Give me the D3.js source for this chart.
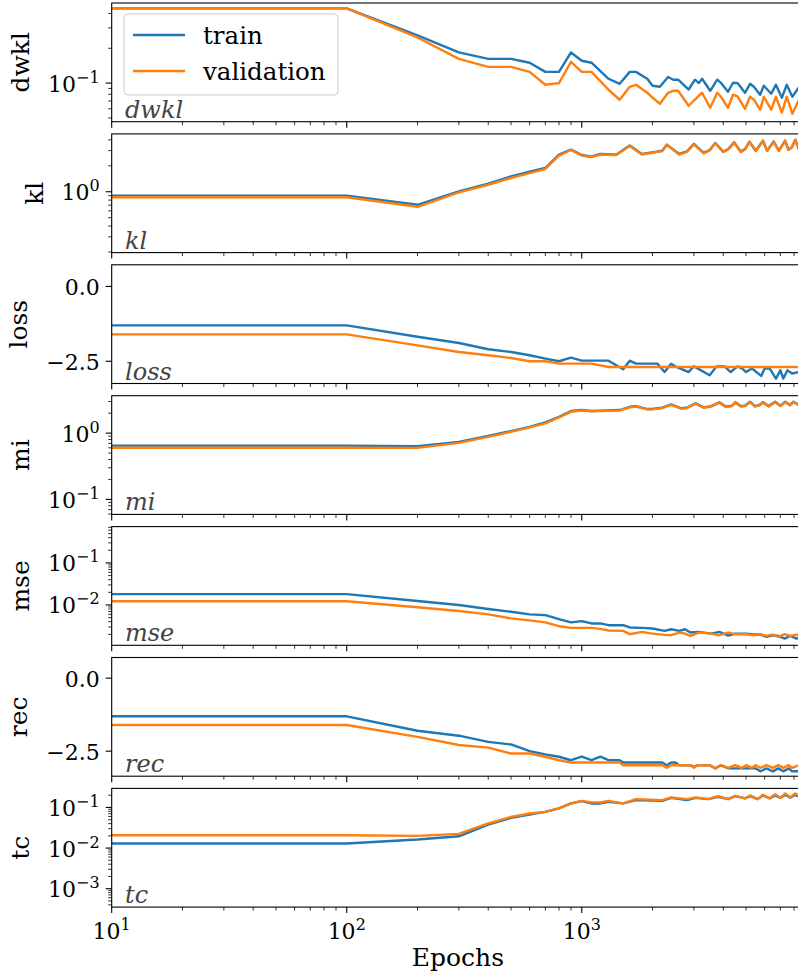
<!DOCTYPE html>
<html>
<head>
<meta charset="utf-8">
<script src="https://cdn.jsdelivr.net/npm/d3@7"></script>
<style>
  body { margin: 0; background: #fff; }
  svg { display: block; }
  text { font-family: "DejaVu Serif", serif; }
</style>
</head>
<body>
<svg id="chart" width="798" height="977"></svg>
<script>
// ---- data ----
const dwklEpochs = [10,100,200,300,400,500,600,700,800,900,1000,1100,1300,1450,1600,1700,1900,2000,2150,2330,2450,2570,2850,3030,3150,3250,3520,3770,3900,4190,4400,4600,4950,5200,5400,5740,5950,6400,6700,7100,7450,7870,8400];
const dwklTrain = [0.443,0.443,0.258,0.184,0.162,0.162,0.150,0.125,0.125,0.184,0.156,0.150,0.109,0.0986,0.125,0.125,0.109,0.0948,0.0929,0.113,0.107,0.107,0.088,0.107,0.100,0.109,0.0858,0.107,0.101,0.0841,0.1006,0.100,0.0825,0.0986,0.0929,0.0793,0.0948,0.0809,0.0967,0.0747,0.0967,0.0762,0.092];
const dwklVal = [0.443,0.443,0.248,0.162,0.138,0.138,0.125,0.0967,0.100,0.1526,0.125,0.125,0.0876,0.0718,0.0929,0.0967,0.0825,0.075,0.0663,0.0825,0.0858,0.0858,0.0637,0.0718,0.078,0.0825,0.0612,0.0825,0.0767,0.0612,0.0793,0.0767,0.0600,0.0762,0.0718,0.0589,0.0762,0.0589,0.0762,0.0555,0.0762,0.0544,0.0718];

const klEpochs = [10,100,200,300,400,500,600,700,800,900,1000,1100,1200,1400,1600,1800,2000,2200,2300,2600,2800,3000,3300,3500,3700,4000,4200,4450,4750,4950,5170,5500,5900,6150,6550,6900,7330,7570,7820,8100,8400];
const klTrain = [0.899,0.899,0.706,1.008,1.239,1.506,1.708,1.886,2.69,3.08,2.67,2.55,2.74,2.69,3.43,2.74,2.86,2.99,3.52,2.74,2.94,3.59,2.82,3.05,3.68,2.92,3.13,3.74,2.92,3.13,3.81,2.99,3.92,2.99,3.84,2.99,3.92,3.08,3.27,4.02,3.08];
const klVal = [0.863,0.863,0.669,0.981,1.206,1.443,1.641,1.836,2.62,3.05,2.62,2.52,2.70,2.66,3.40,2.70,2.83,2.96,3.48,2.70,2.91,3.55,2.79,3.01,3.64,2.89,3.10,3.70,2.89,3.10,3.77,2.96,3.88,2.96,3.80,2.96,3.88,3.05,3.24,3.98,3.05];

const lossEpochs = [10,100,200,300,400,500,600,700,800,900,1000,1100,1300,1500,1600,1700,2100,2250,2400,2500,2850,3000,3500,3750,4050,4300,4600,4800,5000,5300,5800,6000,6300,6700,7000,7200,7500,7850,8400];
const lossTrain = [-1.30,-1.30,-1.68,-1.89,-2.10,-2.19,-2.30,-2.41,-2.50,-2.38,-2.48,-2.48,-2.48,-2.77,-2.48,-2.58,-2.58,-2.86,-2.58,-2.67,-2.86,-2.67,-2.97,-2.67,-2.67,-2.86,-2.67,-2.74,-2.86,-2.74,-2.99,-2.74,-2.74,-3.08,-2.80,-3.08,-2.80,-2.91,-2.86];
const lossVal = [-1.60,-1.60,-1.97,-2.19,-2.30,-2.39,-2.50,-2.50,-2.58,-2.58,-2.58,-2.58,-2.69,-2.69,-2.69,-2.69,-2.69,-2.69,-2.69,-2.69,-2.69,-2.69,-2.69,-2.69,-2.69,-2.69,-2.69,-2.69,-2.69,-2.69,-2.69,-2.69,-2.69,-2.69,-2.69,-2.69,-2.69,-2.69,-2.69];

const miEpochs = [10,100,200,300,400,500,600,700,800,900,1000,1100,1200,1450,1600,1700,1900,2000,2200,2400,2650,2800,3050,3300,3550,3850,4100,4350,4500,4750,4950,5200,5450,5700,5900,6250,6650,7000,7350,7700,7950,8400];
const miTrain = [0.647,0.647,0.635,0.738,0.910,1.072,1.246,1.452,1.766,2.154,2.23,2.154,2.177,2.23,2.50,2.56,2.31,2.31,2.42,2.72,2.37,2.42,2.82,2.45,2.56,2.92,2.50,2.59,2.92,2.56,2.59,2.98,2.56,2.66,2.92,2.56,2.98,2.59,2.98,2.66,2.98,2.66];
const miVal = [0.603,0.603,0.600,0.714,0.879,1.047,1.22,1.40,1.73,2.10,2.20,2.13,2.15,2.20,2.46,2.52,2.28,2.28,2.39,2.68,2.34,2.39,2.78,2.42,2.52,2.88,2.47,2.56,2.88,2.52,2.56,2.94,2.52,2.62,2.88,2.52,2.94,2.56,2.94,2.62,2.94,2.62];

const mseEpochs = [10,100,200,300,400,500,600,700,800,900,1000,1100,1200,1300,1500,1600,1800,2000,2250,2400,2600,2750,2900,3150,3550,3850,4200,4500,5000,5400,5750,6100,6500,6850,7300,7700,8200,8400];
const mseTrain = [0.0181,0.0181,0.01247,0.0100,0.00802,0.00690,0.00598,0.00575,0.00461,0.00385,0.00413,0.00364,0.00364,0.00331,0.00331,0.00292,0.00285,0.00276,0.00242,0.00265,0.00242,0.00265,0.00221,0.00229,0.00209,0.00229,0.00187,0.00209,0.00209,0.00198,0.00198,0.00174,0.00191,0.00184,0.00159,0.00184,0.00159,0.0017];
const mseVal = [0.0123,0.0123,0.00885,0.00718,0.00598,0.00480,0.00430,0.00385,0.00313,0.00286,0.00286,0.00286,0.00270,0.00247,0.00242,0.00202,0.00229,0.00209,0.00195,0.00191,0.00221,0.00209,0.00184,0.00221,0.00209,0.00191,0.00221,0.00202,0.00202,0.00191,0.00202,0.00184,0.00198,0.00174,0.00202,0.00184,0.00198,0.0019];

const recEpochs = [10,100,200,300,400,500,600,700,800,900,1000,1100,1200,1300,1450,1500,2200,2300,2400,2500,2600,2900,3000,3100,3500,3700,3900,4200,4500,4800,5000,5300,5500,5750,6100,6500,6850,7200,7600,7850,8400];
const recTrain = [-1.306,-1.306,-1.80,-1.97,-2.18,-2.27,-2.50,-2.61,-2.69,-2.81,-2.69,-2.81,-2.69,-2.81,-2.81,-2.89,-2.89,-2.98,-2.89,-2.89,-2.98,-2.98,-3.04,-2.98,-2.98,-3.09,-2.98,-3.09,-3.09,-3.09,-3.09,-3.09,-3.09,-3.19,-3.09,-3.19,-3.09,-3.19,-3.09,-3.19,-3.19];
const recVal = [-1.605,-1.605,-2.01,-2.29,-2.38,-2.58,-2.58,-2.69,-2.81,-2.89,-2.89,-2.89,-2.89,-2.89,-2.89,-2.98,-2.98,-3.07,-2.98,-2.98,-2.98,-2.98,-3.07,-2.98,-2.98,-3.09,-2.98,-3.07,-2.98,-3.07,-2.98,-3.07,-2.98,-3.07,-2.98,-3.07,-2.98,-3.07,-2.98,-3.07,-2.98];

const tcEpochs = [10,100,200,300,400,500,600,700,800,900,1000,1100,1200,1300,1500,1700,2200,2400,2800,3050,3450,3800,4200,4500,4950,5200,5600,5900,6300,6650,7000,7350,7700,8100,8400];
const tcTrain = [0.0129,0.0129,0.0162,0.0195,0.0380,0.0553,0.0671,0.0778,0.0945,0.1256,0.1432,0.1256,0.1256,0.1374,0.1256,0.1514,0.1456,0.1726,0.1514,0.1726,0.1603,0.183,0.1603,0.190,0.1668,0.190,0.1603,0.1977,0.1668,0.1977,0.1726,0.2049,0.1726,0.2049,0.183];
const tcVal = [0.0207,0.0207,0.0200,0.0223,0.0403,0.0586,0.0711,0.0778,0.0945,0.1256,0.1456,0.1334,0.1334,0.1456,0.1256,0.1603,0.1514,0.1766,0.1603,0.1766,0.1603,0.190,0.1603,0.1933,0.1668,0.1977,0.1603,0.2049,0.1668,0.213,0.1726,0.222,0.1766,0.222,0.1933];

const seriesNames = ['train', 'validation'];
const seriesColors = ['#1f77b4', '#ff7f0e'];
const linearTicks = [0, -2.5];

// ---- layout ----
const svg = d3.select('#chart');
const left = 111.7, right = 799;
const x = d3.scaleLog().domain([10, 8400]).range([left, right]);

// y limits are the axis limits seen in the picture
const panels = [
  { name: 'dwkl', log: true,  lim: [0.04638, 0.4922], epochs: dwklEpochs, train: dwklTrain, val: dwklVal },
  { name: 'kl',   log: true,  lim: [0.1968, 4.688],   epochs: klEpochs,   train: klTrain,   val: klVal },
  { name: 'loss', log: false, lim: [-3.243, 0.723],   epochs: lossEpochs, train: lossTrain, val: lossVal },
  { name: 'mi',   log: true,  lim: [0.0593, 3.674],   epochs: miEpochs,   train: miTrain,   val: miVal },
  { name: 'mse',  log: true,  lim: [0.0011, 0.730],   epochs: mseEpochs,  train: mseTrain,  val: mseVal },
  { name: 'rec',  log: false, lim: [-3.357, 0.708],   epochs: recEpochs,  train: recTrain,  val: recVal },
  { name: 'tc',   log: true,  lim: [0.000352, 0.2944], epochs: tcEpochs,  train: tcTrain,   val: tcVal }
];

const minus = s => String(s).replace('-', '\u2212');

// log10 label "10^k"
function powLabel(sel, k) {
  sel.text('10');
  sel.append('tspan')
    .attr('dy', -9)
    .attr('font-size', 16)
    .text(minus(k));
}

const xMajor = [10, 100, 1000];
const xMinor = [];
[10, 100, 1000].forEach(b => { for (let m = 2; m <= 9; m++) if (b * m <= 8400) xMinor.push(b * m); });

panels.forEach((p, i) => {
  const top = 3 + 130.9 * i;
  const bottom = top + 118.7;
  const y = (p.log ? d3.scaleLog() : d3.scaleLinear()).domain(p.lim).range([bottom, top]);
  const g = svg.append('g');

  svg.append('clipPath').attr('id', 'clip' + i)
    .append('rect').attr('x', left).attr('y', top).attr('width', right - left).attr('height', bottom - top);

  // lines
  const line = d3.line().x(d => x(d[0])).y(d => y(d[1]));
  [p.train, p.val].forEach((vals, s) => {
    g.append('path')
      .datum(p.epochs.map((e, j) => [e, vals[j]]))
      .attr('clip-path', 'url(#clip' + i + ')')
      .attr('fill', 'none')
      .attr('stroke', seriesColors[s])
      .attr('stroke-width', 2.4)
      .attr('stroke-linejoin', 'round')
      .attr('d', line);
  });

  // in-plot italic label
  g.append('text')
    .attr('x', 125).attr('y', bottom - 4)
    .attr('font-size', 24).attr('font-style', 'italic')
    .attr('fill', '#444')
    .text(p.name);

  // x ticks
  xMajor.forEach(v => g.append('line')
    .attr('x1', x(v)).attr('x2', x(v)).attr('y1', bottom).attr('y2', bottom + 6)
    .attr('stroke', '#000').attr('stroke-width', 1.1));
  xMinor.forEach(v => g.append('line')
    .attr('x1', x(v)).attr('x2', x(v)).attr('y1', bottom).attr('y2', bottom + 3.5)
    .attr('stroke', '#000').attr('stroke-width', 0.8));

  // y ticks
  const yAxis = g.append('g');
  let majors;
  if (p.log) {
    const k0 = Math.ceil(Math.log10(p.lim[0])), k1 = Math.floor(Math.log10(p.lim[1]));
    majors = d3.range(k0, k1 + 1);
    for (let k = k0 - 1; k <= k1; k++) {
      for (let m = 2; m <= 9; m++) {
        const v = m * Math.pow(10, k);
        if (v < p.lim[0] || v > p.lim[1]) continue;
        yAxis.append('line')
          .attr('x1', left - 3.5).attr('x2', left).attr('y1', y(v)).attr('y2', y(v))
          .attr('stroke', '#000').attr('stroke-width', 0.8);
      }
    }
    majors.forEach(k => {
      const v = Math.pow(10, k);
      yAxis.append('line')
        .attr('x1', left - 6).attr('x2', left).attr('y1', y(v)).attr('y2', y(v))
        .attr('stroke', '#000').attr('stroke-width', 1.1);
      yAxis.append('text')
        .attr('class', 'tl')
        .attr('x', left - 12).attr('y', y(v) + 8.5)
        .attr('text-anchor', 'end').attr('font-size', 22)
        .call(powLabel, k);
    });
  } else {
    linearTicks.forEach(v => {
      yAxis.append('line')
        .attr('x1', left - 6).attr('x2', left).attr('y1', y(v)).attr('y2', y(v))
        .attr('stroke', '#000').attr('stroke-width', 1.1);
      yAxis.append('text')
        .attr('class', 'tl')
        .attr('x', left - 12).attr('y', y(v) + 8.5)
        .attr('text-anchor', 'end').attr('font-size', 22)
        .text(minus(d3.format('.1f')(v)));
    });
  }

  // y label, set just left of the tick labels
  let minX = Infinity;
  yAxis.selectAll('text.tl').each(function () { minX = Math.min(minX, this.getBBox().x); });
  const cy = (top + bottom) / 2;
  g.append('text')
    .attr('transform', `translate(${minX - 19},${cy}) rotate(-90)`)
    .attr('text-anchor', 'middle').attr('font-size', 25)
    .text(p.name);

  // frame
  g.append('rect')
    .attr('x', left).attr('y', top).attr('width', right - left).attr('height', bottom - top)
    .attr('fill', 'none').attr('stroke', '#000').attr('stroke-width', 1.1);

  // x tick labels on the last panel only
  if (i === panels.length - 1) {
    xMajor.forEach(v => {
      g.append('text')
        .attr('x', x(v)).attr('y', bottom + 31.5)
        .attr('text-anchor', 'middle').attr('font-size', 22)
        .call(powLabel, Math.round(Math.log10(v)));
    });
    g.append('text')
      .attr('x', (left + 798) / 2 + 3).attr('y', 966)
      .attr('text-anchor', 'middle').attr('font-size', 25)
      .text('Epochs');
  }

  // legend in the first panel
  if (i === 0) {
    const lg = g.append('g');
    lg.append('rect')
      .attr('x', 124).attr('y', 14).attr('width', 214).attr('height', 81)
      .attr('rx', 4).attr('fill', '#fff').attr('fill-opacity', 0.8)
      .attr('stroke', '#ccc').attr('stroke-width', 1);
    seriesNames.forEach((n, s) => {
      const ly = 35 + 36 * s;
      lg.append('line')
        .attr('x1', 133).attr('x2', 185).attr('y1', ly).attr('y2', ly)
        .attr('stroke', seriesColors[s]).attr('stroke-width', 2.4);
      lg.append('text')
        .attr('x', 203).attr('y', ly + 8.5)
        .attr('font-size', 24.5)
        .text(n);
    });
  }
});
</script>
</body>
</html>
